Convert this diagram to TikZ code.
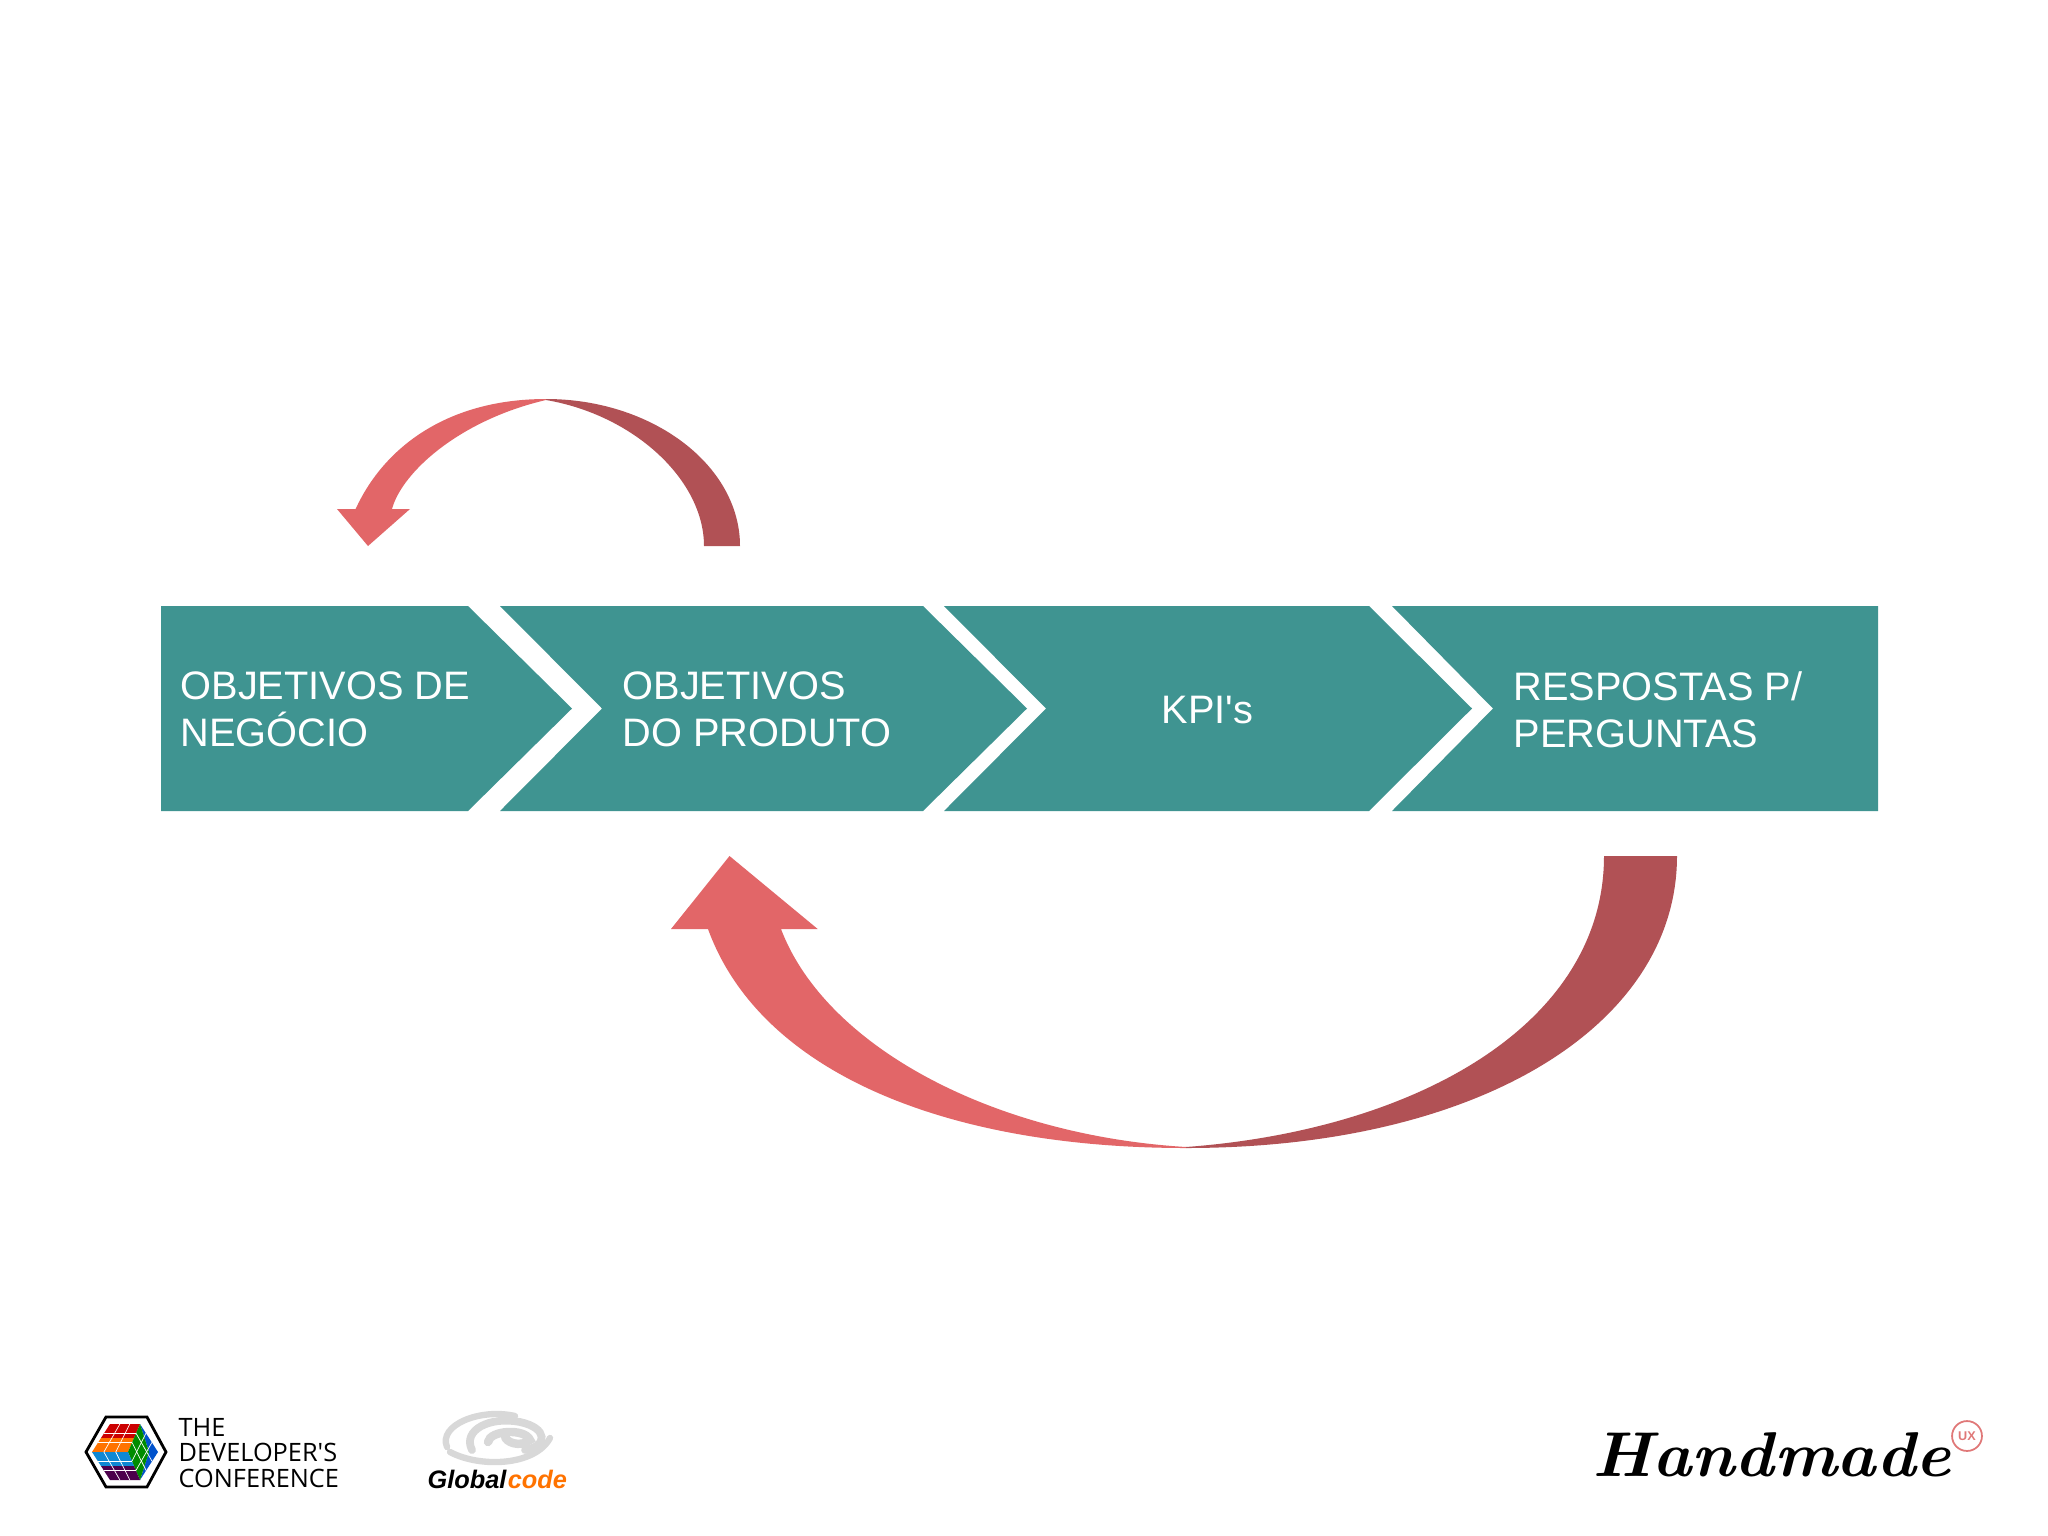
\documentclass[tikz,border=0pt]{standalone}
\usepackage{fontspec}
\usetikzlibrary{calc}
\setmainfont{Liberation Sans}
\newfontfamily\confont{Open Sans}
\newfontfamily\handfont{Latin Modern Roman}
\definecolor{faixa}{HTML}{3F9491}
\definecolor{setaclara}{HTML}{E26668}
\definecolor{setaescura}{HTML}{B15155}
\definecolor{cinzalogo}{HTML}{D8D8D8}
\definecolor{rosaux}{HTML}{E07878}
\tikzset{
    faixabox/.style={fill=faixa,draw=none},
    rotulo/.style={text=white,anchor=west,align=left,inner sep=0pt,font=\fontsize{11.3}{13.4}\selectfont},
    claro/.style={fill=setaclara,draw=none},
    escuro/.style={fill=setaescura,draw=none},
    marca/.style={text=black,anchor=base west,inner sep=0pt,font=\confont\fontsize{7.2}{7.2}\selectfont}
}
\begin{document}
\begin{tikzpicture}[x=0.01cm,y=-0.01cm]
            \useasboundingbox (0,0) rectangle (2048,1536);
            \fill[white] (0,0) rectangle (2048,1536);

            \fill[faixabox] (161,606) -- (468,606) -- (572,708.5) -- (468,811) -- (161,811) -- cycle;
            \fill[faixabox] (500,606) -- (923,606) -- (1027,708.5) -- (923,811) -- (500,811) -- (602,708.5) -- cycle;
            \fill[faixabox] (944,606) -- (1369,606) -- (1472,708.5) -- (1369,811) -- (944,811) -- (1046,708.5) -- cycle;
            \fill[faixabox] (1392,606) -- (1878,606) -- (1878,811) -- (1392,811) -- (1493,708.5) -- cycle;

            \node[rotulo] (objnegocio) at (180,709.5) {OBJETIVOS DE\\NEGÓCIO};
            \node[rotulo] (objproduto) at (622,709.5) {OBJETIVOS\\DO PRODUTO};
            \node[rotulo] (kpis) at (1161,710) {KPI\textquotesingle s};
            \node[rotulo] (respostas) at (1513,709.5) {RESPOSTAS P/\\PERGUNTAS};

            % seta de cima
            \fill[escuro] (740,546) .. controls (740,465) and (652,399) .. (546,399)
                -- (546,400) .. controls (634,415) and (704,480) .. (704,546) -- cycle;
            \fill[claro] (546,399) .. controls (450,399) and (385,445) .. (355.6,509)
                -- (337,509) -- (368,546) -- (410,509) -- (392,509)
                .. controls (402,472) and (460,420) .. (546,400) -- cycle;

            % seta de baixo
            \fill[escuro] (1677,856) .. controls (1677,1025) and (1480,1148) .. (1186,1148)
                -- (1186,1147) .. controls (1415,1130) and (1604,1025) .. (1604,856) -- cycle;
            \fill[claro] (1186,1148) .. controls (945,1148) and (760,1072) .. (708,929)
                -- (671,929) -- (729.5,856) -- (817.7,929) -- (781,929)
                .. controls (825,1045) and (990,1135) .. (1186,1147) -- cycle;

            % logo TDC
            \fill[white,draw=black,line width=0.8pt] (86,1452) -- (106,1417) -- (147,1417) -- (166,1452) -- (147,1487) -- (106,1487) -- cycle;
            \fill[red!80!black] (110,1424) -- (140,1424) -- (134,1438) -- (101,1438) -- cycle;
            \fill[orange!90!red] (101,1438) -- (134,1438) -- (128,1452) -- (92,1452) -- cycle;
            \fill[blue!60!cyan!80!black] (140,1424) -- (158,1452) -- (140,1480) -- (149,1452) -- cycle;
            \fill[green!55!black] (140,1424) -- (149,1452) -- (140,1480) -- (128,1452) -- cycle;
            \fill[cyan!70!blue] (92,1452) -- (128,1452) -- (134,1466) -- (101,1466) -- cycle;
            \fill[violet!60!black] (101,1466) -- (134,1466) -- (140,1480) -- (110,1480) -- cycle;
            \foreach \t in {0.33,0.66} {
                \draw[white,very thin] ($(110,1424)!\t!(92,1452)$) -- ($(140,1424)!\t!(128,1452)$);
                \draw[white,very thin] ($(110,1424)!\t!(140,1424)$) -- ($(92,1452)!\t!(128,1452)$);
                \draw[white,very thin] ($(92,1452)!\t!(110,1480)$) -- ($(128,1452)!\t!(140,1480)$);
                \draw[white,very thin] ($(92,1452)!\t!(128,1452)$) -- ($(110,1480)!\t!(140,1480)$);
                \draw[white,very thin] ($(140,1424)!\t!(128,1452)$) -- ($(158,1452)!\t!(140,1480)$);
                \draw[white,very thin] ($(140,1424)!\t!(158,1452)$) -- ($(128,1452)!\t!(140,1480)$);
            }
            \node[marca] (tdcum) at (178,1436) {THE};
            \node[marca] (tdcdois) at (178,1461) {DEVELOPER'S};
            \node[marca] (tdctres) at (178,1487) {CONFERENCE};

            % logo Globalcode
            \draw[cinzalogo,line width=1.8pt,line cap=round] (447,1447) .. controls (438,1425) and (480,1408) .. (515,1416);
            \draw[cinzalogo,line width=2.2pt,line cap=round] (472,1450) .. controls (462,1430) and (490,1416) .. (520,1422) .. controls (548,1428) and (548,1446) .. (525,1450);
            \draw[cinzalogo,line width=2.4pt,line cap=round] (488,1442) .. controls (490,1430) and (525,1428) .. (530,1440) .. controls (520,1448) and (505,1442) .. (505,1436);
            \draw[cinzalogo,line width=1.8pt,line cap=round] (450,1452) .. controls (480,1468) and (535,1466) .. (550,1438);
            \node[anchor=base west,inner sep=0pt,font=\bfseries\itshape\fontsize{7.2}{7.2}\selectfont] (global) at (427,1488) {Global};
            \node[anchor=base west,inner sep=0pt,text=orange!90!red,font=\bfseries\itshape\fontsize{7.2}{7.2}\selectfont] (code) at (global.base east) {code};

            % logo Handmade
            \node[anchor=base west,inner sep=0pt,xscale=1.05,transform shape,font=\handfont\bfseries\itshape\fontsize{18}{18}\selectfont] (handmade) at (1592,1476) {Handmade};
            \node[circle,draw=rosaux,line width=0.5pt,minimum size=8.5pt,inner sep=0pt,text=rosaux,font=\bfseries\fontsize{3.6}{3.6}\selectfont] (ux) at (1967,1436) {UX};
        \end{tikzpicture}
\end{document}
